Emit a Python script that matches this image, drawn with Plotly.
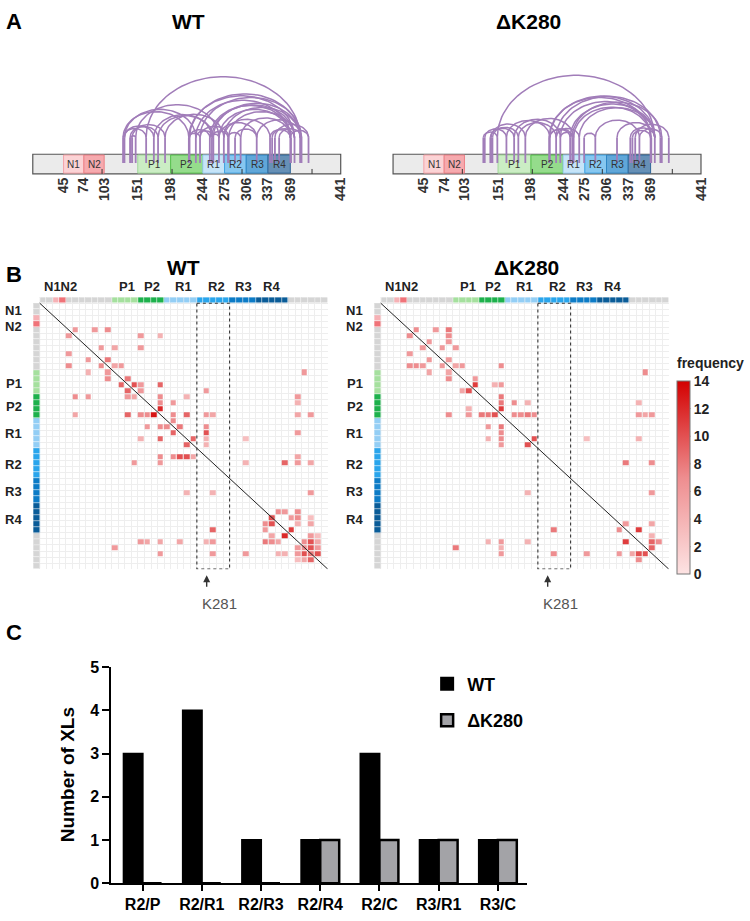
import numpy as np
import plotly.graph_objects as go

W, H = 750, 921
def fx(px): return px / W
def fy(py): return 1 - py / H

FONT = "Liberation Sans, Arial, sans-serif"

# ---------------- Panel A data ----------------
seq_len = 441
tick_residues = [45, 74, 103, 151, 198, 244, 275, 306, 337, 369, 441]
minor_ticks = [100, 200, 300, 400]
dom_names = ["N1", "N2", "P1", "P2", "R1", "R2", "R3", "R4"]
dom_start = [45, 74, 151, 198, 244, 275, 306, 337]
dom_end = [74, 103, 198, 244, 275, 306, 337, 369]
dom_fill = ["#fbd3d5", "#f6aaae", "#cbedc4", "#95dc8c", "#c6e4f8", "#86c7f0", "#60a7d9", "#6690b6"]
dom_line = ["#f3a3a8", "#ec7f85", "#9fd898", "#55c04c", "#95cbef", "#3fa3e3", "#2f86c4", "#2f679a"]

wt_arc_a = [130, 132, 140, 141, 143, 130, 132, 148, 163, 174, 180, 190,
            224, 225, 234, 240, 254, 257, 224, 225, 234, 240, 254, 257,
            259, 267, 274, 281, 274, 298, 280, 267, 290, 321, 340, 343,
            347, 353, 369]
wt_arc_b = [163, 174, 180, 148, 190, 224, 234, 267, 383, 257, 259, 274,
            240, 254, 259, 281, 267, 280, 375, 383, 369, 385, 370, 375,
            383, 369, 383, 375, 340, 369, 298, 321, 321, 385, 369, 375,
            395, 385, 395]
dk_arc_a = [130, 132, 140, 141, 143, 150, 163, 174, 180, 190, 224, 225,
            234, 240, 224, 225, 234, 240, 254, 257, 259, 267, 290, 321,
            274, 343, 347, 353, 340]
dk_arc_b = [150, 163, 174, 190, 180, 375, 225, 240, 234, 259, 254, 257,
            267, 259, 369, 375, 383, 370, 375, 385, 369, 375, 353, 375,
            290, 369, 395, 385, 375]

# ---------------- Panel B data ----------------
seg_names = ["C", "N1", "N2", "P1", "P2", "R1", "R2", "R3", "R4", "corner"]
seg_colors = ["#d5d5d5", "#f6b1b5", "#f07379", "#a5e09e", "#1db14c",
              "#93cef5", "#29a5ec", "#0c7bc6", "#0a5c98", "#ffffff"]
cell_segment = ([0] * 2 + [1] + [2] + [0] * 7 + [3] * 4 + [4] * 4 + [5] * 5 +
                [6] * 5 + [7] * 4 + [8] * 5 + [0] * 6)
n_cells = len(cell_segment)

wt_row = [4, 4, 4, 5, 5, 5, 7, 7, 7, 8, 9, 9, 10, 10, 10, 10, 11, 11, 11, 12, 12,
          13, 13, 13, 13, 14, 14, 14, 15, 15, 15, 15, 15, 15, 15, 16, 16, 16, 17,
          18, 18, 18, 18, 18, 18, 18, 18, 18, 18, 18, 19, 20, 20, 20, 20, 20,
          21, 21, 21, 22, 22, 22, 22, 22, 23, 23,
          25, 25, 25, 25, 25, 25, 26, 26, 26, 26, 26, 26, 31, 31, 31,
          34, 34, 34, 35, 35, 35, 35, 36, 36, 36, 36, 37, 37, 37,
          38, 38, 38, 38, 39, 39, 39, 39, 39, 39, 39, 39, 39, 39, 39, 39,
          40, 40, 40, 40, 40, 41, 41, 41, 41, 41, 41, 41, 41, 41, 42, 42, 42]
wt_col = [5, 8, 10, 4, 15, 18, 9, 11, 15, 4, 7, 10, 4, 9, 11, 12, 7, 10, 40, 10, 13,
          12, 14, 15, 18, 13, 15, 25, 5, 7, 13, 14, 18, 22, 39, 18, 20, 39, 18,
          5, 13, 15, 16, 17, 20, 22, 25, 26, 39, 41, 20, 16, 18, 19, 21, 25,
          20, 25, 39, 15, 18, 23, 25, 31, 22, 25,
          18, 20, 21, 22, 23, 39, 14, 18, 31, 37, 39, 41, 22, 26, 41,
          36, 37, 39, 35, 38, 39, 41, 34, 35, 39, 41, 26, 34, 38,
          35, 37, 41, 42, 15, 16, 18, 21, 25, 26, 34, 35, 36, 40, 41, 42,
          11, 39, 40, 41, 42, 18, 26, 31, 36, 37, 39, 40, 41, 42, 39, 40, 41]
wt_freq = [6, 6, 7, 6, 6, 4, 6, 5, 6, 6, 6, 8, 7, 7, 5, 6, 4, 6, 6, 7, 8,
           9, 10, 6, 9, 9, 6, 6, 7, 6, 6, 5, 7, 4, 6, 7, 6, 4, 12,
           5, 9, 7, 7, 13, 7, 9, 6, 5, 5, 6, 7, 6, 7, 7, 8, 7,
           9, 10, 6, 4, 9, 9, 4, 3, 9, 4,
           7, 7, 10, 10, 5, 5, 6, 6, 4, 9, 6, 5, 4, 4, 6,
           7, 6, 7, 10, 6, 7, 3, 7, 10, 4, 5, 9, 6, 11,
           5, 12, 6, 3, 6, 5, 5, 5, 4, 6, 8, 7, 5, 7, 10, 5,
           6, 6, 7, 10, 6, 6, 6, 6, 4, 4, 6, 10, 8, 10, 3, 5, 9]

dk_row = [4, 4, 4, 5, 5, 6, 6, 7, 7, 7, 8, 9, 9, 10, 10, 10, 10, 10, 10, 10,
          11, 11, 11, 12, 12, 13, 13, 13, 14, 14, 15, 16, 16, 16, 16, 17, 17,
          18, 18, 18, 18, 18, 18, 18, 18, 18, 18, 18, 18, 20, 20, 21,
          22, 22, 22, 22, 22, 23, 23,
          26, 26, 31, 31, 36, 36, 37, 37, 37, 38, 39, 39, 39, 39, 39, 39,
          40, 40, 40, 41, 41, 41, 41, 41, 41, 41, 42]
dk_col = [5, 8, 10, 4, 10, 7, 10, 6, 9, 11, 4, 7, 10, 4, 5, 6, 9, 11, 12, 18,
          7, 10, 40, 10, 14, 14, 17, 18, 12, 13, 18, 18, 20, 22, 39, 13, 18,
          10, 13, 15, 16, 17, 20, 21, 22, 23, 39, 40, 41, 16, 18, 18,
          16, 18, 23, 31, 39, 18, 22,
          37, 41, 22, 41, 37, 41, 26, 36, 39, 41, 16, 18, 22, 37, 41, 42,
          11, 18, 41, 18, 26, 31, 36, 38, 39, 40, 39]
dk_freq = [7, 6, 8, 7, 7, 6, 6, 6, 6, 6, 6, 6, 6, 7, 7, 6, 6, 5, 6, 7,
           5, 5, 7, 7, 6, 11, 4, 6, 5, 10, 8, 8, 7, 4, 4, 4, 11,
           7, 6, 8, 8, 10, 7, 7, 8, 7, 6, 5, 6, 6, 8, 7,
           4, 7, 10, 3, 4, 6, 10,
           8, 7, 4, 6, 6, 5, 8, 7, 11, 4, 4, 6, 4, 11, 9, 7,
           8, 4, 9, 6, 7, 6, 6, 5, 10, 10, 7]

highlight_first, highlight_last = 24, 28   # R2 columns
k281_cell = 25

# ---------------- Panel C data ----------------
pair_labels = ["R2/P", "R2/R1", "R2/R3", "R2/R4", "R2/C", "R3/R1", "R3/C"]
wt_counts = [3, 4, 1, 1, 3, 1, 1]
dk_counts = [0, 0, 0, 1, 1, 1, 1]

# =====================================================
fig = go.Figure()
shapes, annos = [], []

def text_at(px, py, text, size, color="#000", bold=True, **kw):
    d = dict(x=fx(px), y=fy(py), xref="paper", yref="paper", text=text, showarrow=False,
             xanchor="center", yanchor="middle",
             font=dict(size=size, family=FONT, color=color, weight="bold" if bold else "normal"))
    d.update(kw)
    annos.append(d)

# ---------- Panel A ----------
A_y0, A_y1 = 55, 180
bar_top, bar_bot = 149, 169
stub_low, stub_top = 158, 132
panelA = [("x", "y", wt_arc_a, wt_arc_b, "WT", 190),
          ("x2", "y2", dk_arc_a, dk_arc_b, "ΔK280", 532)]
scale = 310 / 440.0
for xr, yr, aa, bb, title, tx in panelA:
    xs, ys = [], []
    for a, b in zip(aa, bb):
        c = (a + b) / 2
        hw = (b - a) / 2
        hp = 0.8 * hw * scale
        t = np.linspace(0, np.pi, 48)
        xs += [float(v) for v in (c - hw * np.cos(t))] + [None]
        ys += [float(v) for v in (stub_top - hp * np.sin(t))] + [None]
    sx, sy = [], []
    for r in sorted(set(aa + bb)):
        sx += [r, r, None]
        sy += [stub_low, stub_top, None]
    fig.add_trace(go.Scatter(x=sx, y=sy, xaxis=xr, yaxis=yr, mode="lines",
                             line=dict(color="#a17db9", width=1.8),
                             hoverinfo="skip", showlegend=False))
    fig.add_trace(go.Scatter(x=xs, y=ys, xaxis=xr, yaxis=yr, mode="lines",
                             line=dict(color="#a17db9", width=1.5),
                             hoverinfo="skip", showlegend=False))
    shapes.append(dict(type="rect", xref=xr, yref=yr, x0=1, x1=seq_len,
                       y0=bar_top, y1=bar_bot, fillcolor="#ebebeb",
                       line=dict(color="#555555", width=1.2), layer="below"))
    for nm, s, e, fc, lc in zip(dom_names, dom_start, dom_end, dom_fill, dom_line):
        shapes.append(dict(type="rect", xref=xr, yref=yr, x0=s, x1=e,
                           y0=bar_top + 0.8, y1=bar_bot - 0.8, fillcolor=fc,
                           line=dict(color=lc, width=1), layer="below"))
        annos.append(dict(x=(s + e) / 2, y=159.5, xref=xr, yref=yr, text=nm,
                          showarrow=False, xanchor="center", yanchor="middle",
                          font=dict(size=10, color="#333", family=FONT)))
    for m in minor_ticks:
        shapes.append(dict(type="line", xref=xr, yref=yr, x0=m, x1=m, y0=164, y1=bar_bot,
                           line=dict(color="#333", width=1), layer="below"))
    text_at(tx, 14, title, 21)

axA = dict(range=[-3, 445], tickvals=tick_residues, ticktext=[str(t) for t in tick_residues],
           tickangle=-90, ticks="", showgrid=False, zeroline=False, showline=False,
           anchor="free", position=fy(bar_bot),
           tickfont=dict(size=14, color="#333", family=FONT, weight="bold"))
fig.update_layout(
    xaxis=dict(domain=[fx(33 - 4 * scale), fx(343 + 4 * scale)], **axA),
    yaxis=dict(domain=[fy(A_y1), fy(A_y0)], range=[A_y1, A_y0], visible=False),
    xaxis2=dict(domain=[fx(395.7 - 4 * scale), fx(705.7 + 4 * scale)], **axA),
    yaxis2=dict(domain=[fy(A_y1), fy(A_y0)], range=[A_y1, A_y0], visible=False, anchor="x2"),
)

# ---------- Panel B ----------
def build(rows, cols, vals):
    z = [[None] * n_cells for _ in range(n_cells)]
    for r, c, v in zip(rows, cols, vals):
        z[r][c] = v
    return z

bar_z = [[None] * (n_cells + 1) for _ in range(n_cells + 1)]
bar_z[0][0] = 9
for i, s in enumerate(cell_segment):
    bar_z[0][i + 1] = s
    bar_z[i + 1][0] = s
ncat = len(seg_colors)
bar_cs = []
for k, c in enumerate(seg_colors):
    bar_cs += [[k / ncat, c], [(k + 1) / ncat, c]]
idx = list(range(-1, n_cells))

heat_cs = [[0, "#fde3e3"], [0.5, "#ee8d8f"], [1, "#d30000"]]
hm_top, hm_bot = 294.6, 571.7
panelB = [("x3", "y3", 33.4, wt_row, wt_col, wt_freq, "WT", 185, False),
          ("x4", "y4", 376.7, dk_row, dk_col, dk_freq, "ΔK280", 530, True)]
cw = (330 - 33.4) / (n_cells + 1)
grid_vals = [k - 0.5 for k in range(n_cells + 1)]
for xr, yr, left, rr, cc, vv, title, tx, scale_on in panelB:
    fig.add_trace(go.Heatmap(x=idx, y=idx, z=bar_z, xaxis=xr, yaxis=yr, colorscale=bar_cs,
                             zmin=-0.5, zmax=ncat - 0.5, showscale=False, xgap=0.6, ygap=0.6,
                             hoverinfo="skip"))
    hm = go.Heatmap(x=list(range(n_cells)), y=list(range(n_cells)), z=build(rr, cc, vv),
                    xaxis=xr, yaxis=yr, colorscale=heat_cs, zmin=0, zmax=14, xgap=1, ygap=1,
                    showscale=scale_on, name=title)
    if scale_on:
        hm.colorbar = dict(x=fx(682), xanchor="left", y=fy(478.5), yanchor="middle",
                           len=197 / H, lenmode="fraction", thickness=13, thicknessmode="pixels",
                           outlinewidth=1, outlinecolor="#777", tickvals=list(range(0, 15, 2)),
                           ticks="", ypad=0, xpad=0,
                           tickfont=dict(size=14, color="#222", family=FONT, weight="bold"))
    fig.add_trace(hm)
    fig.add_trace(go.Scatter(x=[-0.5, n_cells - 0.5], y=[-0.5, n_cells - 0.5], xaxis=xr, yaxis=yr,
                             mode="lines", line=dict(color="#222", width=1),
                             hoverinfo="skip", showlegend=False))
    h0, h1 = highlight_first - 0.5, highlight_last + 0.5
    fig.add_trace(go.Scatter(x=[h0, h1, h1, h0, h0], y=[-0.5, -0.5, n_cells - 0.5, n_cells - 0.5, -0.5],
                             xaxis=xr, yaxis=yr, mode="lines",
                             line=dict(color="#333", width=1.1, dash="dot"),
                             hoverinfo="skip", showlegend=False))
    ax = dict(domain=[fx(left), fx(left + cw * (n_cells + 1))], range=[-1.5, n_cells - 0.5],
              tickvals=grid_vals, showticklabels=False, ticks="", showgrid=True,
              gridcolor="#eeeeee", gridwidth=1, zeroline=False, showline=False, anchor=yr)
    ay = dict(domain=[fy(hm_bot), fy(hm_top)], range=[n_cells - 0.5, -1.5],
              tickvals=grid_vals, showticklabels=False, ticks="", showgrid=True,
              gridcolor="#eeeeee", gridwidth=1, zeroline=False, showline=False, anchor=xr)
    fig.layout["xaxis" + xr[1:]] = ax
    fig.layout["yaxis" + yr[1:]] = ay
    off = left - 33.4
    text_at(tx, 264, title, 21)
    for t, px in [("N1N2", 61), ("P1", 128), ("P2", 153), ("R1", 185), ("R2", 218), ("R3", 245), ("R4", 273)]:
        text_at(px + off, 284, t, 13, "#222")
    for t, py in [("N1", 308), ("N2", 324.5), ("P1", 383), ("P2", 406), ("R1", 434),
                  ("R2", 465), ("R3", 493), ("R4", 521)]:
        text_at(14 + off, py, t, 13, "#222")
    kx = left + cw * (k281_cell + 1.5)
    annos.append(dict(x=fx(kx), y=fy(578), xref="paper", yref="paper", text="", showarrow=True,
                      ax=0, ay=13, arrowhead=2, arrowsize=1, arrowwidth=1.4, arrowcolor="#333"))
    text_at(kx + 13, 607, "K281", 15, "#555", bold=False)

for k in range(1, 7):
    yy = 577 - 2 * k * (197 / 14)
    shapes.append(dict(type="line", xref="paper", yref="paper", x0=fx(682), x1=fx(695),
                       y0=fy(yy), y1=fy(yy), line=dict(color="#8c4646", width=1)))
text_at(715, 362, "frequency", 14, "#222")

# ---------- Panel C ----------
fig.add_trace(go.Bar(x=pair_labels, y=wt_counts, name="WT", xaxis="x5", yaxis="y5",
                     marker=dict(color="#000000", line=dict(color="#000", width=2)),
                     legendgroup="wt"))
fig.add_trace(go.Bar(x=pair_labels, y=dk_counts, name="ΔK280", xaxis="x5", yaxis="y5",
                     marker=dict(color="#a3a3a7", line=dict(color="#000", width=2.5)),
                     legendgroup="dk"))
fig.layout.xaxis5 = dict(domain=[fx(112), fx(531)], anchor="y5", range=[-0.53, 6.5],
                         showline=True, linecolor="#000", linewidth=2, ticks="outside",
                         ticklen=6, tickwidth=2, tickcolor="#000", showgrid=False,
                         tickfont=dict(size=16, family=FONT, color="#000", weight="bold"))
fig.layout.yaxis5 = dict(domain=[fy(891.7), fy(671.7)], anchor="x5", range=[0, 5], dtick=1,
                         showline=True, linecolor="#000", linewidth=2, ticks="outside",
                         ticklen=7, tickwidth=2, tickcolor="#000", showgrid=False, zeroline=False,
                         tickfont=dict(size=16, family=FONT, color="#000", weight="bold"))
text_at(68, 781, "Number of XLs", 19, textangle=-90)

# panel letters
for t, py in [("A", 14), ("B", 272), ("C", 636)]:
    text_at(4, py, t, 22, xanchor="left")

fig.update_layout(
    width=W, height=H, margin=dict(l=0, r=0, t=0, b=0),
    paper_bgcolor="white", plot_bgcolor="white",
    barmode="group", bargap=0.36, bargroupgap=0,
    shapes=shapes, annotations=annos,
    showlegend=True,
    legend=dict(x=fx(430), y=fy(670), xanchor="left", yanchor="top", traceorder="grouped",
                tracegroupgap=10, bgcolor="rgba(0,0,0,0)",
                font=dict(size=18, family=FONT, color="#000", weight="bold")),
    font=dict(family=FONT),
)
fig.write_html("out.html")
